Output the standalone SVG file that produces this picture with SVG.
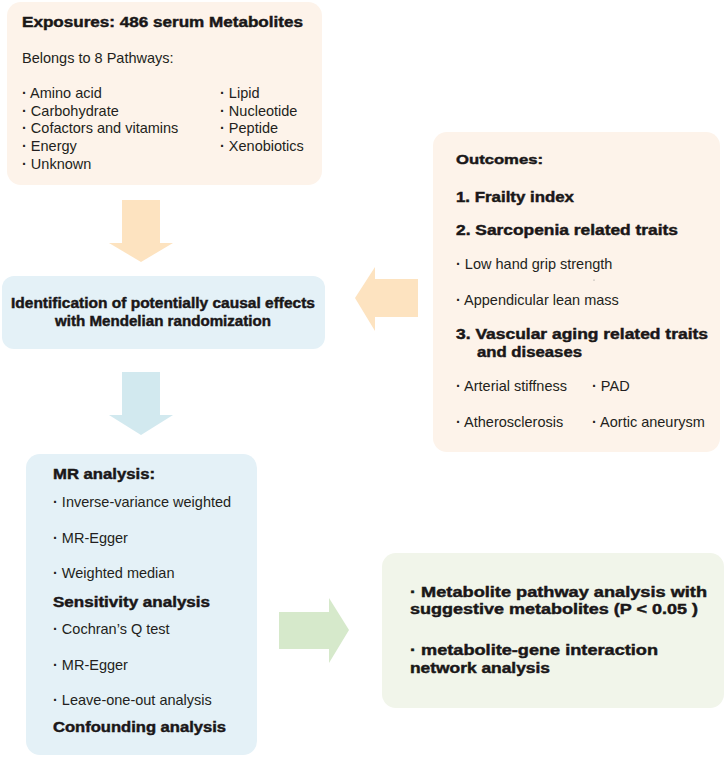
<svg xmlns="http://www.w3.org/2000/svg" width="726" height="758" viewBox="0 0 726 758">
<style>
.t{font-family:"Liberation Sans",Arial,sans-serif;font-size:14.5px;fill:#231f20}
.t tspan.d{font-weight:bold}
.b{font-family:"Liberation Sans",Arial,sans-serif;font-size:14.5px;font-weight:bold;fill:#1a1718;stroke:#1a1718;stroke-width:0.45}
.peach{fill:#fdf3ea}
.blue{fill:#e4f1f7}
.green{fill:#f1f5ea}
</style>
<rect width="726" height="758" fill="#ffffff"/>
<g id="connectors">
  <polygon points="122,200 160,200 160,243 173,243 141,262 109,243 122,243" fill="#fde3c0"/>
  <polygon points="418,279 375,279 375,267 355,298 375,331 375,317 418,317" fill="#fde3c0"/>
  <polygon points="122,372 160,372 160,415 173,415 141,435 109,415 122,415" fill="#d2e9ef"/>
  <polygon points="279,612 329,612 329,598 349,630 329,663 329,649 279,649" fill="#d6e9cb"/>
</g>
<g id="exposures">
  <rect class="peach" x="7" y="2" width="315" height="183" rx="14"/>
  <text class="b" x="22" y="27" textLength="281" lengthAdjust="spacingAndGlyphs">Exposures: 486 serum Metabolites</text>
  <text class="t" x="22" y="63">Belongs to 8 Pathways:</text>
  <text class="t" x="22" y="98"><tspan class="d">·</tspan> Amino acid</text>
  <text class="t" x="22" y="116"><tspan class="d">·</tspan> Carbohydrate</text>
  <text class="t" x="22" y="133"><tspan class="d">·</tspan> Cofactors and vitamins</text>
  <text class="t" x="22" y="151"><tspan class="d">·</tspan> Energy</text>
  <text class="t" x="22" y="169"><tspan class="d">·</tspan> Unknown</text>
  <text class="t" x="220" y="98"><tspan class="d">·</tspan> Lipid</text>
  <text class="t" x="220" y="116"><tspan class="d">·</tspan> Nucleotide</text>
  <text class="t" x="220" y="133"><tspan class="d">·</tspan> Peptide</text>
  <text class="t" x="220" y="151"><tspan class="d">·</tspan> Xenobiotics</text>
</g>
<g id="outcomes">
  <rect class="peach" x="433" y="132" width="287" height="320" rx="14"/>
  <text class="b" x="456" y="164" textLength="87" lengthAdjust="spacingAndGlyphs" style="font-size:13.5px">Outcomes:</text>
  <text class="b" x="456" y="202" textLength="118" lengthAdjust="spacingAndGlyphs">1. Frailty index</text>
  <text class="b" x="456" y="235" textLength="222" lengthAdjust="spacingAndGlyphs">2. Sarcopenia related traits</text>
  <text class="t" x="456" y="269"><tspan class="d">·</tspan> Low hand grip strength</text>
  <circle cx="594" cy="280" r="0.6" fill="#888"/>
  <text class="t" x="456" y="305"><tspan class="d">·</tspan> Appendicular lean mass</text>
  <text class="b" x="456" y="339" textLength="252" lengthAdjust="spacingAndGlyphs">3. Vascular aging related traits</text>
  <text class="b" x="477" y="357" textLength="105" lengthAdjust="spacingAndGlyphs">and diseases</text>
  <text class="t" x="456" y="391"><tspan class="d">·</tspan> Arterial stiffness</text>
  <text class="t" x="592" y="391"><tspan class="d">·</tspan> PAD</text>
  <text class="t" x="456" y="427"><tspan class="d">·</tspan> Atherosclerosis</text>
  <text class="t" x="592" y="427"><tspan class="d">·</tspan> Aortic aneurysm</text>
</g>
<g id="identification">
  <rect class="blue" x="2" y="276" width="323" height="73" rx="12"/>
  <text class="b" x="11" y="308" textLength="304" lengthAdjust="spacingAndGlyphs">Identification of potentially causal effects</text>
  <text class="b" x="55" y="326" textLength="216" lengthAdjust="spacingAndGlyphs">with Mendelian randomization</text>
</g>
<g id="mr-analysis">
  <rect class="blue" x="26" y="454" width="231" height="301" rx="14"/>
  <text class="b" x="53" y="479" textLength="102" lengthAdjust="spacingAndGlyphs">MR analysis:</text>
  <text class="t" x="53" y="507"><tspan class="d">·</tspan> Inverse-variance weighted</text>
  <text class="t" x="53" y="543"><tspan class="d">·</tspan> MR-Egger</text>
  <text class="t" x="53" y="578"><tspan class="d">·</tspan> Weighted median</text>
  <text class="b" x="53" y="607" textLength="157" lengthAdjust="spacingAndGlyphs">Sensitivity analysis</text>
  <text class="t" x="53" y="634"><tspan class="d">·</tspan> Cochran’s Q test</text>
  <text class="t" x="53" y="670"><tspan class="d">·</tspan> MR-Egger</text>
  <text class="t" x="53" y="705"><tspan class="d">·</tspan> Leave-one-out analysis</text>
  <text class="b" x="53" y="732" textLength="173" lengthAdjust="spacingAndGlyphs">Confounding analysis</text>
</g>
<g id="pathway-analysis">
  <rect class="green" x="382" y="553" width="342" height="155" rx="14"/>
  <text class="b" x="410" y="597" textLength="297" lengthAdjust="spacingAndGlyphs">· Metabolite pathway analysis with</text>
  <text class="b" x="410" y="614" textLength="288" lengthAdjust="spacingAndGlyphs">suggestive metabolites (P &lt; 0.05 )</text>
  <text class="b" x="410" y="655" textLength="248" lengthAdjust="spacingAndGlyphs">· metabolite-gene interaction</text>
  <text class="b" x="410" y="673" textLength="140" lengthAdjust="spacingAndGlyphs">network analysis</text>
</g>
</svg>
